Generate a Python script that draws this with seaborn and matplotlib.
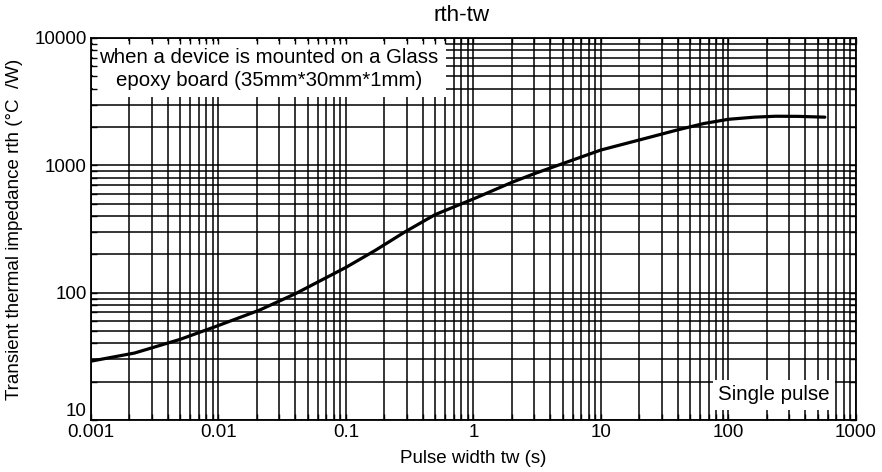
import pandas as pd
import seaborn as sns
import matplotlib.pyplot as plt
from matplotlib.ticker import NullFormatter

# curve (pulse width in s, rth in degC/W)
tw = [0.001, 0.0022, 0.005, 0.0094, 0.021, 0.04, 0.1, 0.17, 0.29, 0.5, 1, 2, 3, 10, 24, 40, 64, 100, 160, 234, 350, 570]
rth = [29, 33.6, 43, 54, 73, 98, 158, 215, 300, 410, 545, 735, 860, 1320, 1660, 1900, 2130, 2300, 2390, 2430, 2425, 2390]

x_ticks = [0.001, 0.01, 0.1, 1, 10, 100, 1000]
x_labels = ['0.001', '0.01', '0.1', '1', '10', '100', '1000']
y_ticks = [10, 100, 1000, 10000]
y_labels = ['10', '100', '1000', '10000']

df = pd.DataFrame({'tw': tw, 'rth': rth})

sns.set_style('white')
plt.rcParams['font.family'] = ['Liberation Sans', 'DejaVu Sans']
plt.rcParams['font.size'] = 13.5
plt.rcParams['text.color'] = 'black'
plt.rcParams['axes.labelcolor'] = 'black'

fig, ax = plt.subplots(figsize=(8.82, 4.72), dpi=100)
fig.subplots_adjust(left=0.103, right=0.9705, top=0.9195, bottom=0.110)

ax.set_xscale('log')
ax.set_yscale('log')
ax.set_xlim(x_ticks[0], x_ticks[-1])
ax.set_ylim(y_ticks[0], y_ticks[-1])

# full log grid, drawn as lines so the white note boxes can sit on top of it
xgrid = [d * m for d in x_ticks[:-1] for m in range(1, 10)] + [x_ticks[-1]]
ygrid = [d * m for d in y_ticks[:-1] for m in range(1, 10)] + [y_ticks[-1]]
ax.vlines(xgrid, y_ticks[0], y_ticks[-1], color='black', lw=1.1, zorder=1)
ax.hlines(ygrid, x_ticks[0], x_ticks[-1], color='black', lw=1.1, zorder=1)

sns.lineplot(data=df, x='tw', y='rth', color='black', lw=2.3, ax=ax, zorder=4)

ax.text(0.233, 0.919, 'when a device is mounted on a Glass\nepoxy board (35mm*30mm*1mm)',
        transform=ax.transAxes, ha='center', va='center', linespacing=1.3, fontsize=14.7,
        bbox=dict(facecolor='white', edgecolor='none', pad=5), zorder=2)
ax.text(0.893, 0.066, 'Single pulse', transform=ax.transAxes, ha='center', va='center',
        fontsize=14.8, bbox=dict(facecolor='white', edgecolor='none', pad=4), zorder=2)

ax.set_xticks(x_ticks, x_labels)
ax.set_yticks(y_ticks, y_labels)
ax.xaxis.set_minor_formatter(NullFormatter())
ax.yaxis.set_minor_formatter(NullFormatter())
ax.set_axisbelow(False)
ax.tick_params(which='both', direction='in', length=4.5, width=1, colors='black',
               top=True, right=True, bottom=True, left=True, pad=3)
# lift the lowest y label so it clears 0.001
for lab in ax.get_yticklabels():
    if lab.get_text() == '10':
        lab.set_va('bottom')
for s in ax.spines.values():
    s.set_color('black')
    s.set_linewidth(1.3)

ax.set_title('rth-tw', pad=12, x=0.484)
ax.set_xlabel('Pulse width tw (s)', labelpad=6)
ax.set_ylabel('Transient thermal impedance rth (°C  /W)', labelpad=8)

plt.savefig('out.png', dpi=100)
